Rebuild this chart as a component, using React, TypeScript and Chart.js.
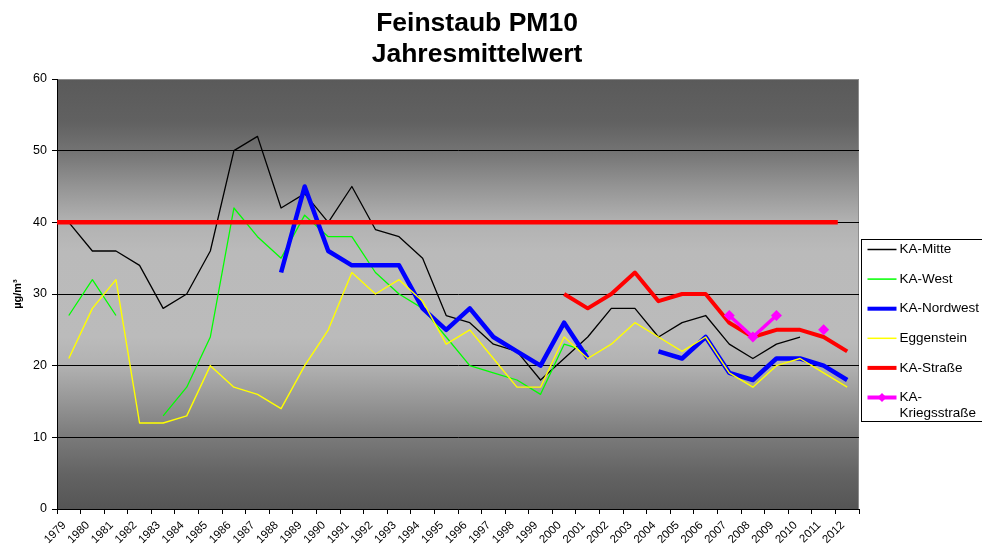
import React, { useEffect, useRef } from "react";
import { Chart, registerables } from "chart.js";

Chart.register(...registerables);

const years = [
  "1979", "1980", "1981", "1982", "1983", "1984", "1985", "1986", "1987", "1988",
  "1989", "1990", "1991", "1992", "1993", "1994", "1995", "1996", "1997", "1998",
  "1999", "2000", "2001", "2002", "2003", "2004", "2005", "2006", "2007", "2008",
  "2009", "2010", "2011", "2012",
];

const kaMitte = [40, 36, 36, 34, 28, 30, 36, 50, 52, 42, 44, 40, 45, 39, 38, 35, 27, 26, 23, 22, 18, 21, 24, 28, 28, 24, 26, 27, 23, 21, 23, 24, null, null];
const kaWest = [27, 32, 27, null, 13, 17, 24, 42, 38, 35, 41, 38, 38, 33, 30, 28, 24, 20, 19, 18, 16, 23, 22, null, null, null, null, null, null, null, null, null, null, null];
const kaNordwest = [null, null, null, null, null, null, null, null, null, 33, 45, 36, 34, 34, 34, 28, 25, 28, 24, 22, 20, 26, 21, null, null, 22, 21, 24, 19, 18, 21, 21, 20, 18];
const eggenstein = [21, 28, 32, 12, 12, 13, 20, 17, 16, 14, 20, 25, 33, 30, 32, 29, 23, 25, 21, 17, 17, 24, 21, 23, 26, 24, 22, 24, 19, 17, 20, 21, 19, 17];
const kaStrasse = [null, null, null, null, null, null, null, null, null, null, null, null, null, null, null, null, null, null, null, null, null, 30, 28, 30, 33, 29, 30, 30, 26, 24, 25, 25, 24, 22];
const kaKriegsstrasse = [null, null, null, null, null, null, null, null, null, null, null, null, null, null, null, null, null, null, null, null, null, null, null, null, null, null, null, null, 27, 24, 27, null, 25, null];

const limitValue = 40;
const limitSpan = [0, 33.1];

const seriesNames = ["KA-Mitte", "KA-West", "KA-Nordwest", "Eggenstein", "KA-Straße", "KA-\nKriegsstraße"];
const seriesColors = ["#000000", "#00ff00", "#0000ff", "#ffff00", "#ff0000", "#ff00ff"];
const seriesWidths = [1.3, 1.3, 4.5, 1.4, 4, 3.5];
const legendWidths = [1.5, 1.5, 4, 1.5, 4, 4];
const seriesData = [kaMitte, kaWest, kaNordwest, eggenstein, kaStrasse, kaKriegsstrasse];

const FONT = "'Liberation Sans', Arial, Helvetica, sans-serif";

const bgPlugin = {
  id: "bgGradient",
  beforeDraw(chart: any) {
    const { ctx, chartArea: a } = chart;
    const g = ctx.createLinearGradient(0, a.top, 0, a.bottom);
    g.addColorStop(0, "#5a5a5a");
    g.addColorStop(0.1, "#616161");
    g.addColorStop(0.167, "#737373");
    g.addColorStop(0.25, "#949494");
    g.addColorStop(0.33, "#b1b1b1");
    g.addColorStop(0.4, "#bababa");
    g.addColorStop(0.6, "#bbbbbb");
    g.addColorStop(0.667, "#b1b1b1");
    g.addColorStop(0.75, "#969696");
    g.addColorStop(0.833, "#7a7a7a");
    g.addColorStop(0.92, "#636363");
    g.addColorStop(1, "#555555");
    ctx.save();
    ctx.fillStyle = g;
    ctx.fillRect(a.left, a.top, a.right - a.left, a.bottom - a.top);
    ctx.strokeStyle = "#8c8c8c";
    ctx.lineWidth = 1;
    ctx.beginPath();
    ctx.moveTo(a.left, a.top + 0.5);
    ctx.lineTo(a.right - 0.5, a.top + 0.5);
    ctx.lineTo(a.right - 0.5, a.bottom);
    ctx.stroke();
    ctx.restore();
  },
};

const legendPlugin = {
  id: "customLegend",
  afterDraw(chart: any) {
    const { ctx, chartArea: a } = chart;
    const boxLeft = a.right + 2.5;
    const boxTop = 239.5;
    const boxBottom = 421.5;
    ctx.save();
    ctx.fillStyle = "#ffffff";
    ctx.fillRect(boxLeft, boxTop, chart.width - boxLeft + 10, boxBottom - boxTop);
    ctx.strokeStyle = "#000000";
    ctx.lineWidth = 1;
    ctx.strokeRect(boxLeft, boxTop, chart.width - boxLeft + 10, boxBottom - boxTop);
    ctx.font = `13.5px ${FONT}`;
    ctx.textBaseline = "middle";
    ctx.textAlign = "left";
    const x0 = boxLeft + 6;
    const x1 = boxLeft + 35;
    seriesNames.forEach((name, i) => {
      const y = 249.5 + i * 29.6;
      ctx.strokeStyle = seriesColors[i];
      ctx.lineWidth = legendWidths[i];
      ctx.beginPath();
      ctx.moveTo(x0, y);
      ctx.lineTo(x1, y);
      ctx.stroke();
      if (i === 5) {
        ctx.fillStyle = seriesColors[i];
        const cx = (x0 + x1) / 2;
        const r = 4.5;
        ctx.beginPath();
        ctx.moveTo(cx, y - r);
        ctx.lineTo(cx + r, y);
        ctx.lineTo(cx, y + r);
        ctx.lineTo(cx - r, y);
        ctx.closePath();
        ctx.fill();
      }
      ctx.fillStyle = "#000000";
      name.split("\n").forEach((line, j) => {
        ctx.fillText(line, x1 + 3, y + j * 15.5);
      });
    });
    ctx.restore();
  },
};

export default function App() {
  const ref = useRef<HTMLCanvasElement>(null);

  useEffect(() => {
    const canvas = ref.current;
    if (!canvas) return;
    Chart.defaults.font.family = FONT;
    const lineSets = seriesData.map((d, i) => ({
      label: seriesNames[i],
      data: d,
      borderColor: seriesColors[i],
      backgroundColor: seriesColors[i],
      borderWidth: seriesWidths[i],
      pointRadius: i === 5 ? 5.5 : 0,
      pointHoverRadius: i === 5 ? 5.5 : 0,
      pointStyle: "rectRot",
      pointBackgroundColor: seriesColors[i],
      pointBorderColor: seriesColors[i],
      pointBorderWidth: 0,
      borderJoinStyle: "round" as const,
      tension: 0,
      fill: false,
      spanGaps: false,
      xAxisID: "x",
      yAxisID: "y",
      order: 6 - i,
    }));
    const limitSet = {
      label: "Grenzwert",
      data: limitSpan.map((x) => ({ x, y: limitValue })),
      borderColor: "#ff0000",
      backgroundColor: "#ff0000",
      borderWidth: 4.5,
      pointRadius: 0,
      fill: false,
      xAxisID: "xL",
      yAxisID: "y",
      order: -10,
    };
    const chart = new Chart(canvas, {
      type: "line",
      data: { labels: years, datasets: [...lineSets, limitSet] as any },
      options: {
        animation: false,
        responsive: true,
        maintainAspectRatio: false,
        events: [],
        layout: { padding: { left: 0, right: 28, top: 0, bottom: 0 } },
        plugins: {
          legend: { display: false },
          tooltip: { enabled: false },
          title: {
            display: true,
            text: ["Feinstaub PM10", "Jahresmittelwert"],
            color: "#000000",
            font: { size: 26.5, weight: "bold", lineHeight: 1.17, family: FONT },
            padding: { top: 8, bottom: 9 },
          },
        },
        scales: {
          x: {
            type: "category",
            offset: true,
            grid: {
              display: true,
              offset: true,
              drawOnChartArea: false,
              drawTicks: true,
              tickLength: 5,
              color: "#000000",
            },
            border: { display: true, color: "#000000", width: 1 },
            ticks: {
              autoSkip: false,
              minRotation: 45,
              maxRotation: 45,
              color: "#000000",
              font: { size: 11.5, family: FONT },
              padding: 0,
              callback: function (this: any, value: any) {
                return this.getLabelForValue(value) + "  ";
              },
            },
            afterFit: (s: any) => {
              s.height = 35;
            },
          },
          xL: {
            type: "linear",
            display: false,
            min: 0,
            max: 34,
          },
          y: {
            type: "linear",
            position: "left",
            min: 0,
            max: 60,
            ticks: {
              stepSize: 10,
              color: "#000000",
              font: { size: 12.5, family: FONT },
              padding: 5,
            },
            grid: {
              color: (c: any) => (c.tick && c.tick.value === 60 ? "#8c8c8c" : "#000000"),
              tickColor: "#000000",
              tickLength: 5,
              lineWidth: 1,
            },
            border: { display: true, color: "#000000", width: 1 },
            title: {
              display: true,
              text: "µg/m³",
              color: "#000000",
              font: { size: 11, weight: "bold", family: FONT },
              padding: { top: 11, bottom: 0 },
            },
            afterFit: (s: any) => {
              s.width = 57;
            },
          },
          yR: {
            type: "linear",
            position: "right",
            display: true,
            grid: { display: false },
            border: { display: false },
            ticks: { display: false },
            afterFit: (s: any) => {
              s.width = 95;
            },
          },
        },
      },
      plugins: [bgPlugin, legendPlugin],
    });
    return () => chart.destroy();
  }, []);

  return (
    <div style={{ position: "absolute", left: 0, top: 0, width: 982, height: 544 }}>
      <canvas ref={ref} />
    </div>
  );
}
